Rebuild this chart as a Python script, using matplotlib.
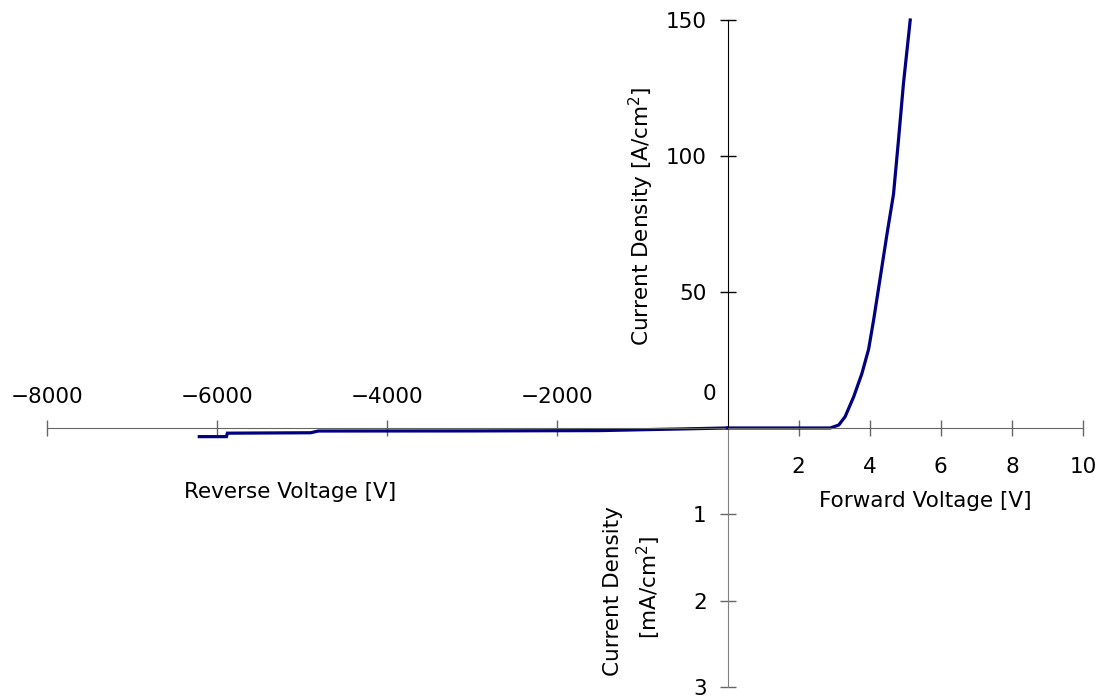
import matplotlib
matplotlib.use("Agg")
import matplotlib.pyplot as plt

plt.rcParams["font.family"] = ["DejaVu Sans"]

# reverse bias sweep: leakage current density in mA/cm2
rev_voltage = [-6210, -5890, -5880, -5500, -4900, -4810, -3000, -1500, -1000, -500, 0]
rev_current = [0.10, 0.10, 0.06, 0.058, 0.055, 0.035, 0.034, 0.03, 0.02, 0.01, 0.0]

# forward bias sweep: current density in A/cm2
fwd_voltage = [0, 2.89, 3.13, 3.31, 3.55, 3.78, 3.97, 4.11, 4.30, 4.49, 4.67, 4.81, 4.95, 5.14]
fwd_current = [0, 0, 1.1, 4.2, 11.5, 20, 29, 39.7, 55.6, 71.6, 86, 105.9, 126.7, 150]

rev_ticks = [-8000, -6000, -4000, -2000]
fwd_ticks = [2, 4, 6, 8, 10]
up_ticks = [50, 100, 150]
low_ticks = [1, 2, 3]

W, H = 1105, 697
line_color = "#000080"
axis_gray = "#666666"
tick_fs = 15.5
label_fs = 15.5


def box(x0, y0, x1, y1):
    # pixel box -> figure fraction rect
    return [x0 / W, 1 - y1 / H, (x1 - x0) / W, (y1 - y0) / H]


def px_text(x, y, s, **kw):
    return fig.text(x / W, 1 - y / H, s, ha="center", va="center", **kw)


fig = plt.figure(figsize=(W / 100, H / 100), dpi=100)

x_left, x_zero, x_right = 47, 727.5, 1083
y_top, y_zero, y_bot = 20, 428, 687

# reverse quadrant (lower left)
ax_rev = fig.add_axes(box(x_left, y_zero, x_zero, y_bot))
ax_rev.set_xlim(-8000, 0)
ax_rev.set_ylim(3, 0)
for s in ["left", "bottom", "right"]:
    ax_rev.spines[s].set_visible(False)
ax_rev.spines["top"].set_color(axis_gray)
ax_rev.xaxis.tick_top()
ax_rev.set_xticks(rev_ticks)
ax_rev.tick_params(axis="x", direction="inout", length=12, width=1,
                   color=axis_gray, labelsize=tick_fs, pad=9)
ax_rev.tick_params(axis="y", left=False, right=False,
                   labelleft=False, labelright=False)
ax_rev.patch.set_visible(False)
ax_rev.plot(rev_voltage, rev_current, color=line_color, lw=2.3, clip_on=False,
            solid_joinstyle="miter")

# lower vertical axis (mA/cm2)
ax_low = fig.add_axes(box(x_zero, y_zero, x_right, y_bot))
ax_low.set_ylim(3, 0)
for s in ["top", "bottom", "right"]:
    ax_low.spines[s].set_visible(False)
ax_low.spines["left"].set_color("#808080")
ax_low.set_xticks([])
ax_low.set_yticks(low_ticks)
ax_low.tick_params(axis="y", direction="inout", length=12, width=1,
                   color=axis_gray, labelsize=tick_fs, pad=9)
ax_low.patch.set_visible(False)

# forward quadrant (upper right)
ax_fwd = fig.add_axes(box(x_zero, y_top, x_right, y_zero))
ax_fwd.set_xlim(0, 10)
ax_fwd.set_ylim(0, 150)
for s in ["top", "right"]:
    ax_fwd.spines[s].set_visible(False)
ax_fwd.spines["bottom"].set_color(axis_gray)
ax_fwd.spines["left"].set_color("black")
ax_fwd.set_xticks(fwd_ticks)
ax_fwd.set_yticks(up_ticks)
ax_fwd.tick_params(axis="x", direction="inout", length=12, width=1,
                   color=axis_gray, labelsize=tick_fs, pad=15)
ax_fwd.tick_params(axis="y", direction="inout", length=12, width=1,
                   color="black", labelsize=tick_fs, pad=9)
ax_fwd.patch.set_visible(False)
ax_fwd.plot(fwd_voltage, fwd_current, color=line_color, lw=2.3, clip_on=False)

# origin label and axis titles
px_text(709, 394, "0", fontsize=tick_fs)
px_text(290, 492, "Reverse Voltage [V]", fontsize=label_fs)
px_text(925, 501, "Forward Voltage [V]", fontsize=label_fs)
px_text(641, 216, r"Current Density [A/cm$^{2}$]", fontsize=label_fs, rotation=90)
px_text(613, 591, "Current Density", fontsize=label_fs, rotation=90)
px_text(649, 587, r"[mA/cm$^{2}$]", fontsize=label_fs, rotation=90)

fig.savefig("out.png", dpi=100)
